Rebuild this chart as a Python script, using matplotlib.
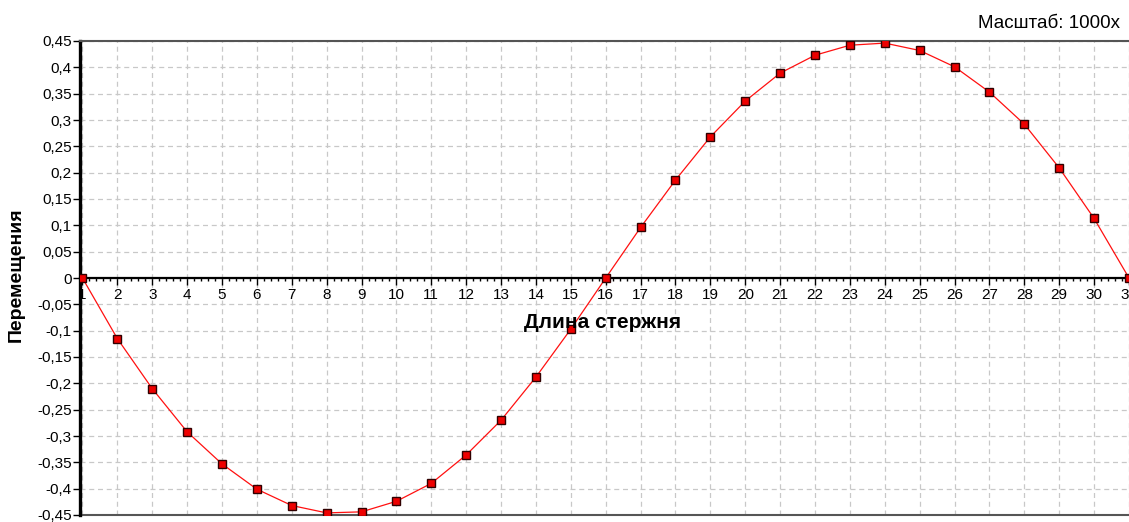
import numpy as np
import matplotlib.pyplot as plt
from matplotlib.ticker import FuncFormatter, MultipleLocator

# node positions along the rod and their displacements (scaled 1000x)
nodes = list(range(1, 32))
displacement = [
    0.0, -0.115, -0.210, -0.292, -0.353, -0.401, -0.432, -0.446, -0.444, -0.424,
    -0.390, -0.336, -0.270, -0.188, -0.097, 0.0, 0.096, 0.186, 0.268, 0.336,
    0.389, 0.423, 0.442, 0.446, 0.432, 0.401, 0.353, 0.292, 0.209, 0.113, 0.0,
]
y_ticks = np.round(np.arange(-0.45, 0.4501, 0.05), 2)

plt.rcParams['font.family'] = ['Liberation Sans', 'DejaVu Sans']

fig = plt.figure(figsize=(11.29, 5.22), dpi=100)
ax = fig.add_axes([80 / 1129, 7 / 522, 1049 / 1129, 474 / 522])

ax.plot(nodes, displacement, color='#ff1010', linewidth=0.9, zorder=3,
        marker='s', markersize=5.5, markerfacecolor='#ee0000',
        markeredgecolor='#300000', markeredgewidth=1.0)

ax.set_xlim(0.93, 31.0)
ax.set_ylim(-0.45, 0.45)

ax.xaxis.set_major_locator(MultipleLocator(1))
ax.xaxis.set_minor_locator(MultipleLocator(0.2))
ax.set_yticks(y_ticks)


def comma(v, pos):
    if abs(v) < 1e-9:
        return '0'
    return ('%g' % round(v, 2)).replace('.', ',')


ax.yaxis.set_major_formatter(FuncFormatter(comma))

ax.grid(True, which='major', color='#c8c8c8', linestyle=(0, (4, 3)), linewidth=0.9)

# x axis runs through zero, the frame stays at the bottom
ax.spines['bottom'].set_position(('data', 0))
ax.spines['bottom'].set_linewidth(1.6)
ax.spines['bottom'].set_color('black')
ax.spines['left'].set_linewidth(2.4)
ax.spines['left'].set_color('black')
ax.spines['top'].set_color('#555555')
ax.spines['top'].set_linewidth(1.5)
ax.spines['right'].set_visible(False)
ax.axhline(-0.45, color='#555555', linewidth=1.5, clip_on=False)

ax.tick_params(axis='x', which='major', direction='out', length=5, width=1,
               labelsize=11, pad=2, colors='black')
ax.tick_params(axis='x', which='minor', direction='out', length=2.5, width=1)
ax.tick_params(axis='y', which='major', direction='out', length=5, width=1,
               labelsize=11, pad=1)
for lbl in ax.get_xticklabels():
    lbl.set_clip_on(False)

ax.text(0.4986, 0.407, 'Длина стержня', transform=ax.transAxes, ha='center',
        va='center', fontsize=15, fontweight='bold')
fig.text(16 / 1129, 0.473, 'Перемещения', rotation=90, ha='center',
         va='center', fontsize=14, fontweight='bold')
fig.text(1120 / 1129, 1 - 28 / 522, 'Масштаб: 1000x', ha='right',
         va='baseline', fontsize=13.5)

fig.savefig('out.png', dpi=100)
